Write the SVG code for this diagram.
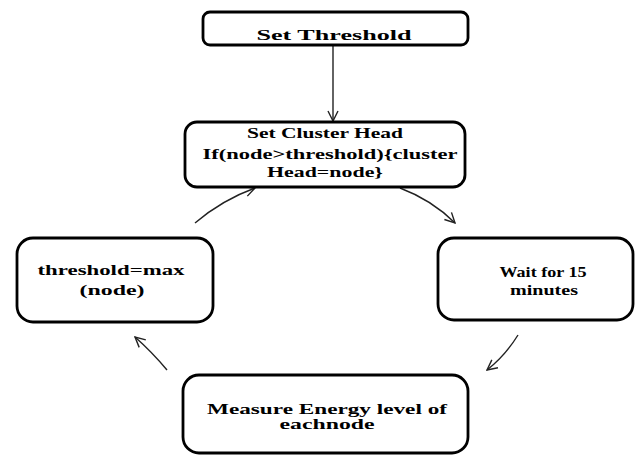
<svg xmlns="http://www.w3.org/2000/svg" width="637" height="456" viewBox="0 0 637 456">
<style>
.box{fill:#fff;stroke:#000;stroke-width:2.8}
.t{font-family:"Liberation Serif","Times New Roman",serif;font-weight:bold;font-size:15px;fill:#000;text-anchor:middle}
.c{fill:none;stroke:#222;stroke-width:1.4}
</style>
<defs>
<marker id="ah" viewBox="0 0 12 12" refX="11" refY="6" markerWidth="12" markerHeight="12" markerUnits="userSpaceOnUse" orient="auto">
<path d="M1,1 L11,6 L1,11" fill="none" stroke="#222" stroke-width="1.4"/>
</marker>
</defs>
<g id="connectors">
<path class="c" d="M333,46 L333,121" marker-end="url(#ah)"/>
<path class="c" d="M195,223 Q222,200 255,188" marker-end="url(#ah)"/>
<path class="c" d="M400,188 Q432,200 455,223" marker-end="url(#ah)"/>
<path class="c" d="M518,335 Q505,356 487,370" marker-end="url(#ah)"/>
<path class="c" d="M167,370 Q152,352 135,337" marker-end="url(#ah)"/>
</g>
<g id="set-threshold">
<rect class="box" x="203" y="12" width="265" height="33" rx="7"/>
<text class="t" x="334" y="40" textLength="155" lengthAdjust="spacingAndGlyphs">Set  Threshold</text>
</g>
<g id="cluster-head">
<rect class="box" x="185" y="122" width="280" height="65" rx="12"/>
<text class="t" x="325" y="138" textLength="156" lengthAdjust="spacingAndGlyphs">Set Cluster Head</text>
<text class="t" x="330" y="159" textLength="255" lengthAdjust="spacingAndGlyphs">If(node&gt;threshold){cluster</text>
<text class="t" x="325" y="177" textLength="116" lengthAdjust="spacingAndGlyphs">Head=node}</text>
</g>
<g id="wait">
<rect class="box" x="438" y="238" width="195" height="82" rx="16"/>
<text class="t" x="543" y="277" textLength="87" lengthAdjust="spacingAndGlyphs">Wait for 15</text>
<text class="t" x="544" y="295" textLength="68" lengthAdjust="spacingAndGlyphs">minutes</text>
</g>
<g id="measure">
<rect class="box" x="183" y="375" width="285" height="78" rx="16"/>
<text class="t" x="327" y="414" textLength="240" lengthAdjust="spacingAndGlyphs">Measure Energy level of</text>
<text class="t" x="327" y="429" textLength="95" lengthAdjust="spacingAndGlyphs">eachnode</text>
</g>
<g id="threshold-max">
<rect class="box" x="17" y="238" width="196" height="84" rx="16"/>
<text class="t" x="111" y="275" textLength="147" lengthAdjust="spacingAndGlyphs">threshold=max</text>
<text class="t" x="112" y="295" textLength="65" lengthAdjust="spacingAndGlyphs">(node)</text>
</g>
</svg>
